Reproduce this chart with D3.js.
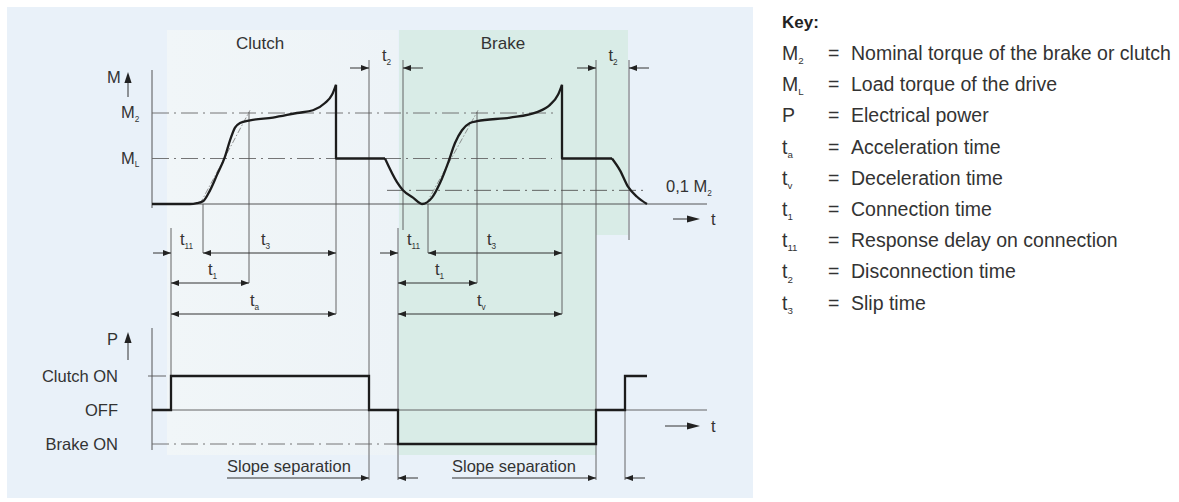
<!DOCTYPE html>
<html>
<head>
<meta charset="utf-8">
<script src="https://cdn.jsdelivr.net/npm/d3@7"></script>
<style>
  body { margin: 0; background: #fff; }
  svg { display: block; font-family: "Liberation Sans", Arial, Helvetica, sans-serif; }
</style>
</head>
<body>
<svg id="chart" width="1179" height="502"></svg>
<script>
// ---- Data (time in ms, torque relative to M2, power state) ----
const timeDomain = [0, 222];

// torque levels marked on the M axis
const torqueLevels = [
  { sym: "M", sub: "2", value: 1.0, to: 162.4 },
  { sym: "M", sub: "L", value: 0.5, to: 160 }
];
const residualLevel = { value: 0.15, from: 94, to: 198.4 };   // 0,1 M2 line

// clutch engagement: response delay, slip rise, peak
const clutchTorque = [
  [0, 0], [15.2, 0], [18, 0.01], [20.4, 0.03], [23.2, 0.15], [26, 0.32],
  [29.2, 0.52], [31.2, 0.7], [33.2, 0.84], [35.2, 0.89], [39.2, 0.92],
  [48.4, 0.95], [58, 1.0], [64.4, 1.03], [69.2, 1.11], [72, 1.2], [73.6, 1.31]
];
// drop to load torque after synchronisation
const clutchHold = [[73.6, 1.31], [73.6, 0.5], [93.2, 0.5]];
// clutch release, then brake engagement
const brakeTorque = [
  [93.2, 0.5], [98, 0.24], [100.4, 0.15], [104.4, 0.07], [108, 0],
  [112, 0.07], [115.2, 0.23], [118.4, 0.45], [121.2, 0.67], [124, 0.81],
  [127.2, 0.89], [130, 0.91], [143.2, 0.95], [154, 1.01], [159.2, 1.09],
  [162.4, 1.2], [164, 1.31]
];
const brakeHold = [[164, 1.31], [164, 0.5], [184, 0.5]];
const brakeRelease = [[184, 0.5], [187.2, 0.37], [190.4, 0.19], [194, 0.08], [198, 0]];

// idealised torque rise (tangents)
const tangents = [
  [[19.2, 0], [39.2, 1.03]],
  [[109.6, 0], [130.4, 1.03]]
];

// electrical power: 1 = Clutch ON, 0 = OFF, -1 = Brake ON
const powerStates = [
  [0, 0], [7.6, 1], [86.8, 0], [98.4, -1], [177.6, 0], [189.2, 1], [198, 1]
];
const powerLabels = [
  { text: "Clutch ON", value: 1 },
  { text: "OFF", value: 0 },
  { text: "Brake ON", value: -1 }
];

// time spans (sym + subscript)
const clutchSpans = [
  { row: 0, from: 20.4, to: 73.6, sym: "t", sub: "3", lx: 43.6 },
  { row: 1, from: 7.6, to: 38.8, sym: "t", sub: "1", lx: 22.4 },
  { row: 2, from: 7.6, to: 73.6, sym: "t", sub: "a", lx: 39.2 }
];
const brakeSpans = [
  { row: 0, from: 110.4, to: 164, sym: "t", sub: "3", lx: 134 },
  { row: 1, from: 98.4, to: 130, sym: "t", sub: "1", lx: 113.2 },
  { row: 2, from: 98.4, to: 164, sym: "t", sub: "v", lx: 130 }
];
const delaySpans = [
  { start: 7.6, end: 20.4, lx: 11.2 },
  { start: 98.4, end: 110.4, lx: 102 }
];
const disconnectSpans = [
  { start: 86.8, end: 100.4 },
  { start: 177.6, end: 190.8 }
];
const slopeSpans = [
  { start: 86.8, end: 98.4, textFrom: 30 },
  { start: 177.6, end: 189.2, textFrom: 120 }
];

const phases = [
  { name: "Clutch", center: 43.2 },
  { name: "Brake", center: 140.4 }
];

const keyEntries = [
  { sym: "M", sub: "2", text: "Nominal torque of the brake or clutch" },
  { sym: "M", sub: "L", text: "Load torque of the drive" },
  { sym: "P", sub: "", text: "Electrical power" },
  { sym: "t", sub: "a", text: "Acceleration time" },
  { sym: "t", sub: "v", text: "Deceleration time" },
  { sym: "t", sub: "1", text: "Connection time" },
  { sym: "t", sub: "11", text: "Response delay on connection" },
  { sym: "t", sub: "2", text: "Disconnection time" },
  { sym: "t", sub: "3", text: "Slip time" }
];

// ---- Layout ----
const svg = d3.select("#chart");
const x = d3.scaleLinear().domain(timeDomain).range([152, 707]);
const yM = d3.scaleLinear().domain([0, 1]).range([204, 113]);
const yP = d3.scaleLinear().domain([-1, 1]).range([444, 376]);
const spanRows = [253, 283, 314];
const t2Row = 68;
const slopeRow = 478;
const lowerEnd = 480;

const INK = "#1c1c1c";
const THIN = "#555";
const TEXT = "#333";
const FS = 16.5;
const KEY_FS = 19.5;

// ---- Backgrounds ----
const defs = svg.append("defs");
const grad = defs.append("linearGradient").attr("id", "clutchGlow")
  .attr("x1", 0).attr("x2", 1).attr("y1", 0).attr("y2", 0);
grad.append("stop").attr("offset", 0).attr("stop-color", "#f1f6f8");
grad.append("stop").attr("offset", 1).attr("stop-color", "#edf3f7");

defs.append("marker").attr("id", "arr")
  .attr("viewBox", "0 0 8 6").attr("refX", 8).attr("refY", 3)
  .attr("markerWidth", 8).attr("markerHeight", 6)
  .attr("markerUnits", "userSpaceOnUse").attr("orient", "auto-start-reverse")
  .append("path").attr("d", "M0,0L8,3L0,6Z").attr("fill", "#222");

svg.append("rect").attr("x", 7).attr("y", 7).attr("width", 746).attr("height", 491)
  .attr("fill", "#e9f1f9");
svg.append("rect").attr("x", x(6)).attr("y", 30).attr("width", x(98.4) - x(6)).attr("height", 425)
  .attr("fill", "url(#clutchGlow)");
// brake phase band
svg.append("path")
  .attr("d", `M${x(98.8)},30H${x(190.4)}V235H${x(177.6)}V455H${x(98.8)}Z`)
  .attr("fill", "#d9ece7");

// ---- helpers ----
function hline(x1, x2, y, opts = {}) {
  return svg.append("line").attr("x1", x1).attr("x2", x2).attr("y1", y).attr("y2", y)
    .attr("stroke", opts.color || THIN).attr("stroke-width", opts.w || 0.9)
    .attr("stroke-dasharray", opts.dash || null);
}
function vline(xp, y1, y2, opts = {}) {
  return svg.append("line").attr("x1", xp).attr("x2", xp).attr("y1", y1).attr("y2", y2)
    .attr("stroke", opts.color || THIN).attr("stroke-width", opts.w || 0.9);
}
function arrow(x1, x2, y, both) {
  const l = hline(x1, x2, y, { color: "#333", w: 1 }).attr("marker-end", "url(#arr)");
  if (both) l.attr("marker-start", "url(#arr)");
  return l;
}
function symbol(xp, yp, sym, sub, size, anchor) {
  const t = svg.append("text").attr("x", xp).attr("y", yp)
    .attr("font-size", size).attr("fill", TEXT).attr("text-anchor", anchor || "start");
  t.append("tspan").text(sym);
  if (sub) t.append("tspan").attr("font-size", size * 0.5).attr("dy", size * 0.22).text(sub);
  return t;
}
function bigArrowUp(xp, yTop, yBot) {
  svg.append("line").attr("x1", xp).attr("x2", xp).attr("y1", yBot).attr("y2", yTop + 8)
    .attr("stroke", "#333").attr("stroke-width", 1);
  svg.append("path").attr("d", `M${xp},${yTop}L${xp + 3.6},${yTop + 11}L${xp - 3.6},${yTop + 11}Z`).attr("fill", "#222");
}
function bigArrowRight(x1, x2, yp) {
  svg.append("line").attr("x1", x1).attr("x2", x2 - 8).attr("y1", yp).attr("y2", yp)
    .attr("stroke", "#333").attr("stroke-width", 1);
  svg.append("path").attr("d", `M${x2},${yp}L${x2 - 13},${yp - 3.5}L${x2 - 13},${yp + 3.5}Z`).attr("fill", "#222");
}
const DASHDOT = "17,5,2,5";

// ---- Phase titles ----
phases.forEach(p => {
  svg.append("text").attr("x", x(p.center)).attr("y", 49).attr("text-anchor", "middle")
    .attr("font-size", 17).attr("fill", TEXT).text(p.name);
});

// ---- Torque diagram ----
vline(x(0), 70, 208, { color: "#444" });
hline(x(0), x(222), yM(0), { color: "#444" });
bigArrowUp(128, 72, 97);
svg.append("text").attr("x", 107).attr("y", 83).attr("font-size", FS).attr("fill", TEXT).text("M");
bigArrowRight(673, 700, 219);
svg.append("text").attr("x", 711).attr("y", 225).attr("font-size", FS).attr("fill", TEXT).text("t");

torqueLevels.forEach(l => {
  hline(x(0), x(l.to), yM(l.value), { dash: DASHDOT, color: "#666" });
  symbol(121, yM(l.value) + 5, l.sym, l.sub, FS);
});
hline(x(residualLevel.from), x(residualLevel.to), yM(residualLevel.value), { dash: DASHDOT, color: "#555" });
symbol(666, yM(residualLevel.value) + 2, "0,1 M", "2", FS);

tangents.forEach(tg => {
  svg.append("line").attr("x1", x(tg[0][0])).attr("y1", yM(tg[0][1]))
    .attr("x2", x(tg[1][0])).attr("y2", yM(tg[1][1]))
    .attr("stroke", "#777").attr("stroke-width", 0.8).attr("stroke-dasharray", "6,2,1.5,2");
});

// marker lines from the torque trace down to the time spans
const markerLines = [
  { t: 7.6, y1: 228, y2: yP(1) },
  { t: 20.4, y1: yM(0), y2: spanRows[0] },
  { t: 38.8, y1: yM(1.01), y2: spanRows[1] },
  { t: 73.6, y1: yM(1.31), y2: spanRows[2] },
  { t: 86.8, y1: 60, y2: lowerEnd },
  { t: 100.4, y1: 60, y2: 230 },
  { t: 98.4, y1: 228, y2: lowerEnd },
  { t: 110.4, y1: yM(0), y2: spanRows[0] },
  { t: 130, y1: yM(1.01), y2: spanRows[1] },
  { t: 164, y1: yM(1.31), y2: spanRows[2] },
  { t: 177.6, y1: 60, y2: lowerEnd },
  { t: 190.8, y1: 60, y2: 240 },
  { t: 189.2, y1: yP(0), y2: lowerEnd }
];
markerLines.forEach(m => vline(x(m.t), m.y1, m.y2));

const lineM = d3.line().x(d => x(d[0])).y(d => yM(d[1]));
const drawTrace = (data, curve) => svg.append("path").datum(data)
  .attr("d", lineM.curve(curve)(data)).attr("fill", "none")
  .attr("stroke", INK).attr("stroke-width", 2.3).attr("stroke-linejoin", "round");
drawTrace(clutchTorque, d3.curveMonotoneX);
drawTrace(clutchHold, d3.curveLinear);
drawTrace(brakeTorque, d3.curveMonotoneX);
drawTrace(brakeHold, d3.curveLinear);
drawTrace(brakeRelease, d3.curveMonotoneX);

// ---- Time spans ----
delaySpans.forEach(s => {
  arrow(x(s.start) - 18, x(s.start), spanRows[0], false);
  symbol(x(s.lx), spanRows[0] - 8, "t", "11", FS);
});
[...clutchSpans, ...brakeSpans].forEach(s => {
  arrow(x(s.from), x(s.to), spanRows[s.row], true);
  symbol(x(s.lx), spanRows[s.row] - 8, s.sym, s.sub, FS);
});
disconnectSpans.forEach(s => {
  arrow(x(s.start) - 19, x(s.start), t2Row, false);
  arrow(x(s.end) + 20, x(s.end), t2Row, false);
  symbol((x(s.start) + x(s.end)) / 2 - 4, t2Row - 7, "t", "2", FS);
});

// ---- Power diagram ----
vline(x(0), 328, 450, { color: "#444" });
bigArrowUp(128, 332, 360);
svg.append("text").attr("x", 107).attr("y", 345).attr("font-size", FS).attr("fill", TEXT).text("P");
hline(x(0), x(222), yP(0), { color: "#555" });
hline(x(0) - 4, x(0) + 14, yP(1), { color: "#555" });
hline(x(0), x(98.4), yP(-1), { dash: DASHDOT, color: "#666" });
bigArrowRight(665, 700, 426);
svg.append("text").attr("x", 711).attr("y", 432).attr("font-size", FS).attr("fill", TEXT).text("t");

powerLabels.forEach(p => {
  svg.append("text").attr("x", 118).attr("y", yP(p.value) + 6).attr("text-anchor", "end")
    .attr("font-size", FS).attr("fill", TEXT).text(p.text);
});

const lineP = d3.line().x(d => x(d[0])).y(d => yP(d[1])).curve(d3.curveStepAfter);
svg.append("path").attr("d", lineP(powerStates)).attr("fill", "none")
  .attr("stroke", INK).attr("stroke-width", 2.3);

slopeSpans.forEach(s => {
  arrow(x(s.textFrom), x(s.start), slopeRow, false);
  arrow(x(s.end) + 20, x(s.end), slopeRow, false);
  svg.append("text").attr("x", x(s.textFrom)).attr("y", slopeRow - 6)
    .attr("font-size", FS).attr("fill", TEXT).text("Slope separation");
});

// ---- Key ----
svg.append("text").attr("x", 782).attr("y", 28).attr("font-size", 17)
  .attr("font-weight", "bold").attr("fill", "#222").text("Key:");
keyEntries.forEach((k, i) => {
  const yy = 60 + i * 31.2;
  symbol(782, yy, k.sym, k.sub, KEY_FS);
  svg.append("text").attr("x", 828).attr("y", yy).attr("font-size", KEY_FS).attr("fill", TEXT).text("=");
  svg.append("text").attr("x", 851).attr("y", yy).attr("font-size", KEY_FS).attr("fill", TEXT).text(k.text);
});
</script>
</body>
</html>
